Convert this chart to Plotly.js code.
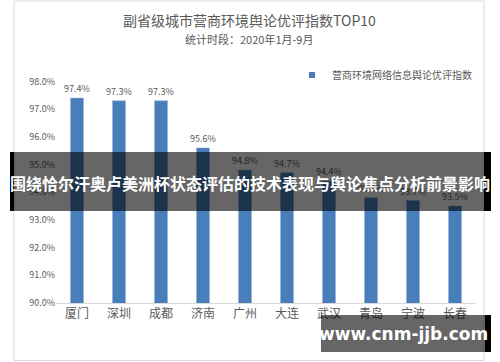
<!DOCTYPE html>
<html><head><meta charset="utf-8">
<script src="https://cdn.plot.ly/plotly-3.0.1.min.js"></script>
<style>html,body{margin:0;padding:0;background:#fff}#chart{width:500px;height:362px}</style>
</head><body><div id="chart"></div>
<script>
const cities = ['厦门','深圳','成都','济南','广州','大连','武汉','青岛','宁波','长春'];
const values = [97.4, 97.3, 97.3, 95.6, 94.8, 94.7, 94.4, 93.8, 93.7, 93.5];
const yTicks = [90, 91, 92, 93, 94, 95, 96, 97, 98];
const yTickLabels = ['90.0%','91.0%','92.0%','93.0%','94.0%','95.0%','96.0%','97.0%','98.0%'];
const seriesName = '营商环境网络信息舆论优评指数';
const titleText = '副省级城市营商环境舆论优评指数TOP10';
const subtitleText = '统计时段：2020年1月-9月';
const bannerText = '围绕恰尔汗奥卢美洲杯状态评估的技术表现与舆论焦点分析前景影响';
const watermarkText = 'www.cnm-jjb.com';

const W = 500, H = 362;
const mL = 56, mR = 24, mT = 70, mB = 59;
const pw = W - mL - mR, ph = H - mT - mB;
const px = x => (x - mL) / pw;
const py = y => (H - mB - y) / ph;
const font = '"Noto Sans CJK SC", "Noto Sans", sans-serif';
const gray = '#595959';
const barColor = '#4a7ebb';

const trace = {
  type: 'bar', x: cities, y: values, name: seriesName, showlegend: false,
  marker: {color: barColor, line: {color: '#8fb0d9', width: 0.5}},
  text: values.map(v => v.toFixed(1) + '%'),
  textposition: 'outside', cliponaxis: false, constraintext: 'none',
  textfont: {size: 9, color: gray, family: font},
  hoverinfo: 'none'
};
const legendTrace = {
  type: 'scatter', mode: 'markers', x: [null], y: [null], name: seriesName,
  marker: {symbol: 'square', size: 6, color: barColor}, showlegend: true, hoverinfo: 'none'
};

const layout = {
  width: W, height: H,
  margin: {l: mL, r: mR, t: mT, b: mB},
  paper_bgcolor: '#fff', plot_bgcolor: '#fff',
  bargap: 0.69,
  font: {family: font, color: gray},
  xaxis: {type: 'category', showgrid: false, showline: true, linecolor: '#d9d9d9', linewidth: 1,
          ticks: '', tickfont: {size: 12, color: gray, family: font}, fixedrange: true},
  yaxis: {range: [90, 90 + 233/27.7], tickmode: 'array', tickvals: yTicks, ticktext: yTickLabels,
          showgrid: false, zeroline: false,
          showline: false, ticks: '', tickfont: {size: 9, color: gray, family: font}, fixedrange: true},
  showlegend: true,
  legend: {x: px(292), y: py(75), xanchor: 'left', yanchor: 'middle', itemwidth: 30,
           font: {size: 10, color: gray, family: font}, bgcolor: 'rgba(0,0,0,0)'},
  annotations: [
    {xref: 'paper', yref: 'paper', x: px(249), y: py(20), text: titleText, showarrow: false,
     font: {size: 14, color: gray, family: font}, xanchor: 'center', yanchor: 'middle'},
    {xref: 'paper', yref: 'paper', x: px(249), y: py(39), text: subtitleText, showarrow: false,
     font: {size: 11, color: gray, family: font}, xanchor: 'center', yanchor: 'middle'},
    {xref: 'paper', yref: 'paper', x: px(250), y: py(183), text: '<b>' + bannerText + '</b>', showarrow: false,
     font: {size: 16, color: '#ffffff', family: font}, xanchor: 'center', yanchor: 'middle'},
    {xref: 'paper', yref: 'paper', x: px(403), y: py(334), text: '<b>' + watermarkText + '</b>', showarrow: false,
     font: {size: 17, color: '#ffffff', family: '"DejaVu Sans", sans-serif'}, xanchor: 'center', yanchor: 'middle'}
  ],
  shapes: [
    {type: 'rect', xref: 'paper', yref: 'paper', x0: px(14), x1: px(484), y0: py(1), y1: py(360.5),
     line: {color: '#d9d9d9', width: 1}, fillcolor: 'rgba(0,0,0,0)', layer: 'below'},
    {type: 'rect', xref: 'paper', yref: 'paper', x0: px(10), x1: px(14), y0: py(152), y1: py(211),
     line: {width: 0}, fillcolor: '#000', layer: 'above'},
    {type: 'rect', xref: 'paper', yref: 'paper', x0: px(484), x1: px(491), y0: py(152), y1: py(211),
     line: {width: 0}, fillcolor: '#000', layer: 'above'},
    {type: 'rect', xref: 'paper', yref: 'paper', x0: px(14), x1: px(484), y0: py(152), y1: py(211),
     line: {width: 0}, fillcolor: 'rgba(0,0,0,0.6)', layer: 'above'},
    {type: 'rect', xref: 'paper', yref: 'paper', x0: px(485), x1: px(491), y0: py(315), y1: py(352),
     line: {width: 0}, fillcolor: '#000', layer: 'above'},
    {type: 'rect', xref: 'paper', yref: 'paper', x0: px(321), x1: px(485), y0: py(315), y1: py(352),
     line: {width: 0}, fillcolor: 'rgba(0,0,0,0.6)', layer: 'above'}
  ]
};

Plotly.newPlot('chart', [trace, legendTrace], layout, {displayModeBar: false, staticPlot: true});
</script></body></html>
